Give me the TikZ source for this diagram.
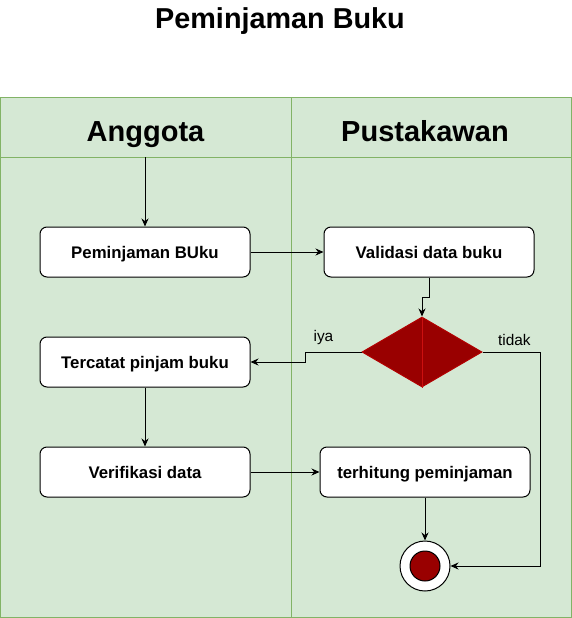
\documentclass[tikz,border=0pt]{standalone}
\usepackage{fontspec}
\setmainfont{Liberation Sans}
\usetikzlibrary{positioning,shapes.geometric,arrows.meta}
\definecolor{laneFill}{HTML}{D5E8D4}
\definecolor{laneLine}{HTML}{82B366}
\definecolor{darkRed}{HTML}{990000}
\definecolor{redLine}{HTML}{B20000}
\definecolor{seamRed}{HTML}{CC1010}

\begin{document}
\begin{tikzpicture}[
    x=1pt, y=-1pt,
    node distance=59pt and 73pt,
    box/.style={rectangle, draw, rounded corners=7pt, fill=white, line width=1pt, minimum width=210pt, minimum height=50pt, text height=12pt, text depth=0pt, font=\fontsize{16.8}{20}\selectfont\bfseries},
    decision/.style={diamond, draw=redLine, fill=darkRed, line width=1pt, minimum width=120pt, minimum height=70pt, inner sep=0pt},
    finish/.style={circle, draw, line width=1pt, inner sep=0pt},
    arrow/.style={-{Stealth[length=8pt,width=7pt]}, line width=1pt},
    lane/.style={draw=laneLine, fill=laneFill, line width=1pt},
    head/.style={text height=21pt, text depth=0pt, inner sep=0pt, font=\fontsize{29}{35}\selectfont\bfseries},
    guard/.style={font=\fontsize{15.4}{18}\selectfont}
]
\useasboundingbox (0,0) rectangle (572,618);

% swimlanes
\draw[lane] (0.5,97.5) rectangle (571.5,617.5);
\draw[laneLine, line width=1pt] (0.5,157) -- (571.5,157);
\draw[laneLine, line width=1pt] (291,97.5) -- (291,617.5);
\node[head, text height=20.5pt, font=\fontsize{28.8}{34}\selectfont\bfseries] (judul) at (280,18) {Peminjaman Buku};
\node[head] (anggota) at (145.5,131) {Anggota};
\node[head] (pustakawan) at (425,131) {Pustakawan};

% activities
\coordinate (mulai) at (145,157);
\node[box] (pinjam) at (145,252) {Peminjaman BUku};
\node[box, below=of pinjam] (catat) {Tercatat pinjam buku};
\node[box, below=of catat] (verif) {Verifikasi data};
\node[box, right=of pinjam] (valid) {Validasi data buku};
\node[decision] (cek) at (422,352) {};
\draw[seamRed, line width=0.6pt] (cek.north) -- (cek.south);
\node[box] (hitung) at (425,472) {terhitung peminjaman};
\node[finish, fill=white, minimum size=50pt] (akhir) at (425,566) {};
\node[finish, fill=darkRed, minimum size=30pt] (akhirIsi) at (akhir) {};

\draw[arrow] (mulai) -- (pinjam);
\draw[arrow] (pinjam) -- (valid);
\draw[arrow] (valid.south) -- ++(0,20) -| (cek.north);
\draw[arrow] (cek.west) -- node[guard, above=3pt, pos=0.68] {iya} ++(-56,0) |- (catat.east);
\draw[arrow] (cek.east) -- node[guard, above=3pt, pos=0.55] {tidak} ++(58,0) |- (akhir.east);
\draw[arrow] (catat) -- (verif);
\draw[arrow] (verif) -- (hitung);
\draw[arrow] (hitung) -- (akhir);
\end{tikzpicture}
\end{document}
